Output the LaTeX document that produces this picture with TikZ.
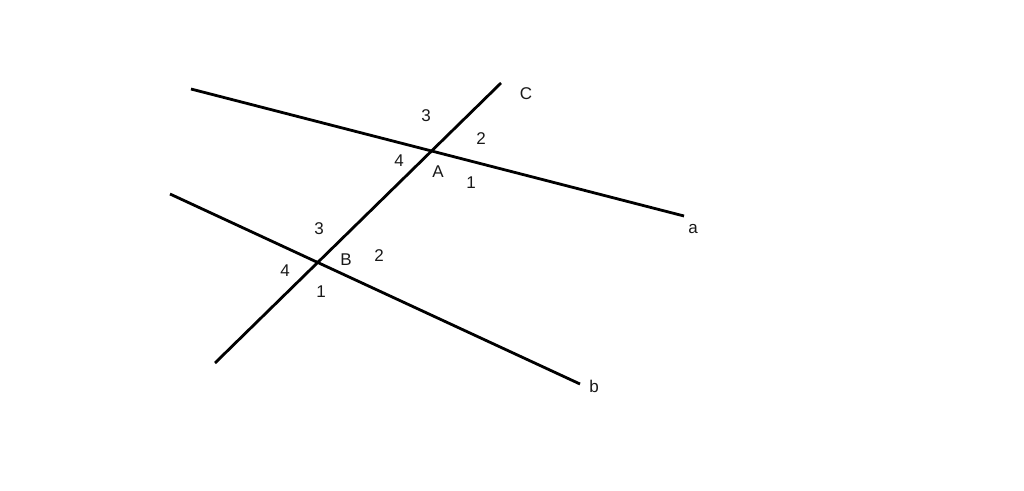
\documentclass[tikz,border=0pt]{standalone}
\usepackage{fontspec}
\setmainfont{Liberation Sans}
\begin{document}
\begin{tikzpicture}[x=1pt,y=-1pt,
  ln/.style={line width=2.8pt,black},
  lbl/.style={font=\fontsize{17}{19}\selectfont,inner sep=0pt,text=black!90}]
\useasboundingbox[fill=white] (0,0) rectangle (1024,490);
\coordinate (a1) at (191,89);
\coordinate (a2) at (684,216);
\coordinate (b1) at (170,194);
\coordinate (b2) at (580,384);
\coordinate (c1) at (215,363);
\coordinate (c2) at (501,83);
\draw[ln] (a1) -- (a2);
\draw[ln] (b1) -- (b2);
\draw[ln] (c1) -- (c2);
\node[lbl] (lC) at (526,94) {C};
\node[lbl] (la) at (693,229) {a};
\node[lbl] (lb) at (594,386) {b};
\node[lbl] (lA) at (438,172) {A};
\node[lbl] (lB) at (346,260) {B};
\node[lbl] (A3) at (426,116) {3};
\node[lbl] (A2) at (481,139) {2};
\node[lbl] (A4) at (399,161) {4};
\node[lbl] (A1) at (471,183) {1};
\node[lbl] (B3) at (319,229) {3};
\node[lbl] (B2) at (379,256) {2};
\node[lbl] (B4) at (285,271) {4};
\node[lbl] (B1) at (321,292) {1};
\end{tikzpicture}
\end{document}
